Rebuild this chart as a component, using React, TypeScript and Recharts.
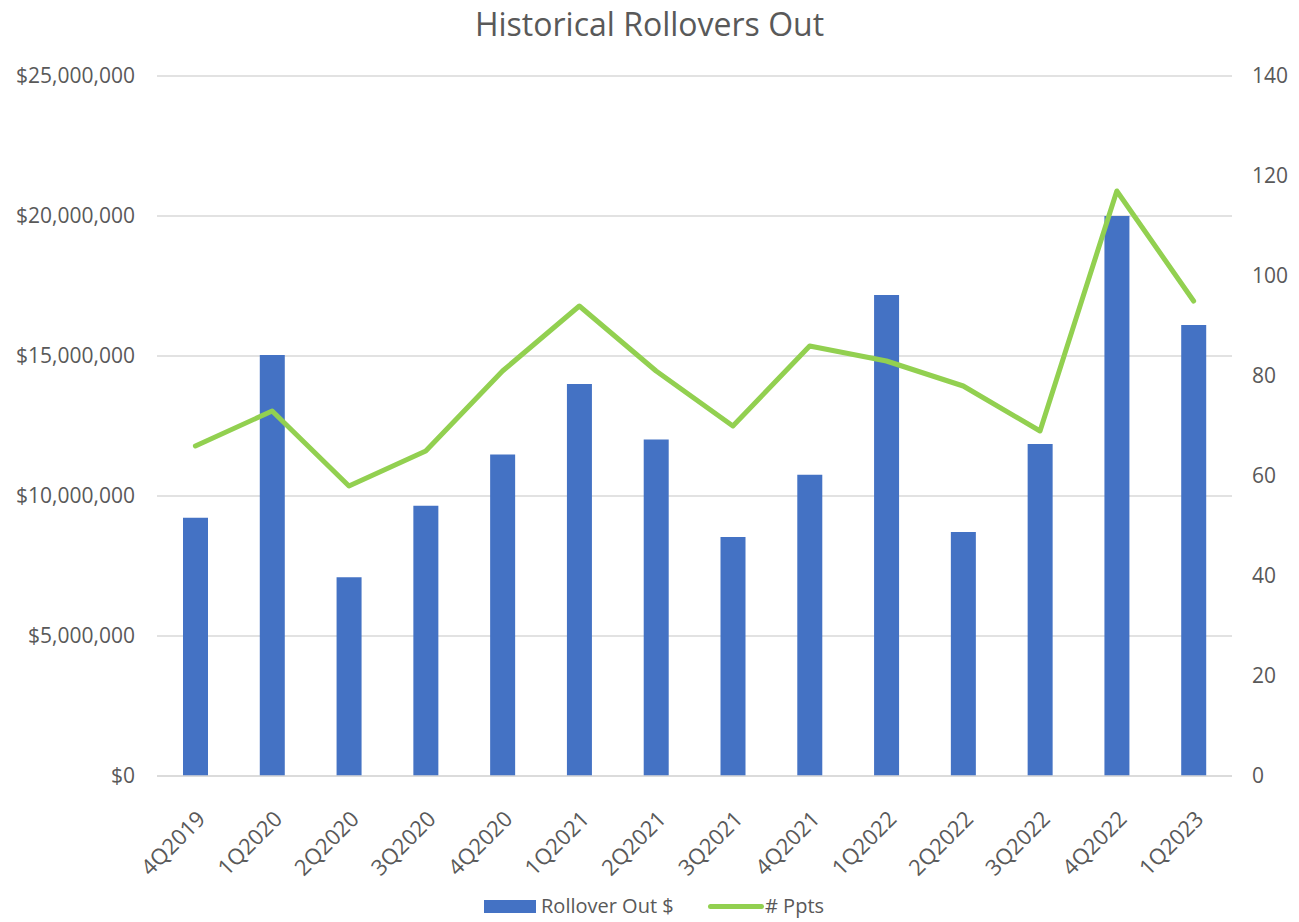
import React from "react";
import { ComposedChart, Bar, Line, XAxis, YAxis, CartesianGrid } from "recharts";

const quarters = ["4Q2019","1Q2020","2Q2020","3Q2020","4Q2020","1Q2021","2Q2021","3Q2021","4Q2021","1Q2022","2Q2022","3Q2022","4Q2022","1Q2023"];
const rolloverOut = [9220000,15040000,7100000,9650000,11480000,14000000,12020000,8540000,10760000,17180000,8710000,11860000,20000000,16110000];
const ppts = [66,73,58,65,81,94,81,70,86,83,78,69,117,95];
const leftTicks = [0,5000000,10000000,15000000,20000000,25000000];
const rightTicks = [0,20,40,60,80,100,120,140];

const data = quarters.map((q, i) => ({ q, amt: rolloverOut[i], ppts: ppts[i] }));

const FONT = "'Open Sans', sans-serif";
const GRAY = "#595959";

const fmtMoney = (v: number) => "$" + v.toLocaleString("en-US");

const XTick = (props: any) => {
  const { x, y, payload } = props;
  return (
    <g transform={`translate(${x + 5},${y + 30})`}>
      <text transform="rotate(-45)" textAnchor="end" dominantBaseline="central" fill={GRAY} fontSize={22} fontFamily={FONT}>
        {payload.value}
      </text>
    </g>
  );
};

export default function App() {
  return (
    <div style={{ position: "relative", width: 1283, height: 914, background: "#fff" }}>
      <div style={{ position: "absolute", top: -2, left: 0, width: 1283, textAlign: "center", fontFamily: FONT, fontSize: 32, color: GRAY, lineHeight: "36px" }}>
        Historical Rollovers Out
      </div>
      <ComposedChart width={1283} height={914} data={data} margin={{ top: 68, right: 0, bottom: 30, left: 0 }}>
        <CartesianGrid yAxisId="left" vertical={false} stroke="#D9D9D9" strokeWidth={1.3} />
        <XAxis dataKey="q" height={116} tick={<XTick />} tickLine={false} axisLine={{ stroke: "#D9D9D9", strokeWidth: 1.3 }} interval={0} />
        <YAxis yAxisId="left" width={149} domain={[0, 25000000]} ticks={leftTicks} tickFormatter={fmtMoney} axisLine={false} tickLine={false} tickMargin={16} tick={{ fill: GRAY, fontSize: 21, fontFamily: FONT }} />
        <YAxis yAxisId="right" orientation="right" width={59} domain={[0, 140]} ticks={rightTicks} axisLine={false} tickLine={false} tickMargin={14} tick={{ fill: GRAY, fontSize: 21, fontFamily: FONT, textAnchor: "start" }} />
        <Bar yAxisId="left" dataKey="amt" name="Rollover Out $" fill="#4472C4" barSize={25} isAnimationActive={false} />
        <Line yAxisId="right" dataKey="ppts" name="# Ppts" stroke="#92D050" strokeWidth={5} dot={false} isAnimationActive={false} strokeLinejoin="round" strokeLinecap="round" />
      </ComposedChart>
      <div style={{ position: "absolute", top: 887, left: 0, width: 1283, height: 26, fontFamily: FONT, fontSize: 20, color: GRAY }}>
        <div style={{ position: "absolute", left: 476, top: 5, width: 52, height: 13, background: "#4472C4" }} />
        <div style={{ position: "absolute", left: 533, top: -3, whiteSpace: "nowrap" }}>Rollover Out $</div>
        <div style={{ position: "absolute", left: 700, top: 9, width: 56, height: 5, borderRadius: 3, background: "#92D050" }} />
        <div style={{ position: "absolute", left: 757, top: -3, whiteSpace: "nowrap" }}>#&nbsp;Ppts</div>
      </div>
    </div>
  );
}
